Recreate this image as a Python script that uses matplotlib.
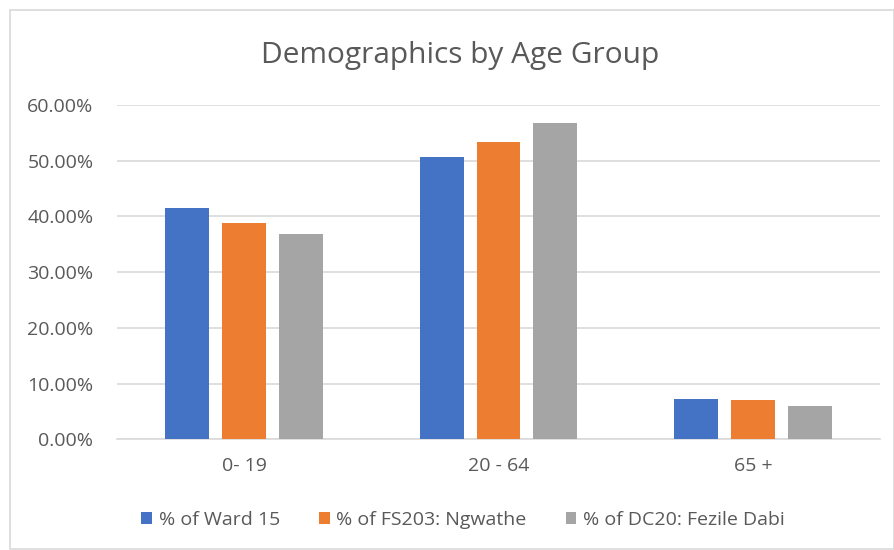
import matplotlib
matplotlib.use("Agg")
import matplotlib.pyplot as plt
import numpy as np
from matplotlib.patches import Rectangle
from matplotlib.ticker import FuncFormatter

categories = ["0- 19", "20 - 64", "65 +"]
series_names = ["% of Ward 15", "% of FS203: Ngwathe", "% of DC20: Fezile Dabi"]
ward15 = [41.6, 50.6, 7.2]
ngwathe = [38.8, 53.4, 7.1]
fezile = [36.9, 56.7, 5.9]
yticks = [0, 10, 20, 30, 40, 50, 60]
colors = ["#4472C4", "#ED7D31", "#A5A5A5"]

plt.rcParams['font.family'] = ['Open Sans', 'DejaVu Sans']

fig = plt.figure(figsize=(8.94, 5.5), dpi=100)
fig.patches.append(Rectangle((10/894, 1.5/550), 884/894, 538.5/550, transform=fig.transFigure,
                             fill=False, edgecolor="#D9D9D9", linewidth=1.2))
ax = fig.add_axes([117/894, 1 - 439.3/550, 763/894, (439.3 - 105)/550])

x = np.arange(len(categories))
width = 0.173
stride = 0.224
for i, (vals, c, name) in enumerate(zip([ward15, ngwathe, fezile], colors, series_names)):
    ax.bar(x + (i - 1) * stride, vals, width=width, color=c, label=name, zorder=3)

ax.set_xlim(-0.5, 2.5)
ax.set_ylim(0, 60)
ax.set_yticks(yticks)
ax.yaxis.set_major_formatter(FuncFormatter(lambda v, p: f"{v:.2f}%"))
ax.set_xticks(x)
ax.set_xticklabels(categories)
ax.grid(axis='y', color="#D9D9D9", linewidth=1.2, zorder=0)
for s in ["top", "right", "left"]:
    ax.spines[s].set_visible(False)
ax.spines["bottom"].set_color("#D9D9D9")
ax.spines["bottom"].set_linewidth(1.2)
ax.tick_params(axis='both', length=0, colors="#595959")
ax.tick_params(axis='y', pad=17, labelsize=14)
ax.tick_params(axis='x', pad=13, labelsize=14)

fig.text(460/894, 1 - 55/550, "Demographics by Age Group", ha="center", va="center",
         fontsize=21.5, color="#595959")

fig.legend(loc="center", bbox_to_anchor=(463/894, 1 - 520/550), ncol=3, frameon=False,
           fontsize=14, labelcolor="#595959", handlelength=0.55, handleheight=0.55,
           handletextpad=0.35, columnspacing=2.0)

fig.savefig("out.png", dpi=100, facecolor="white")
